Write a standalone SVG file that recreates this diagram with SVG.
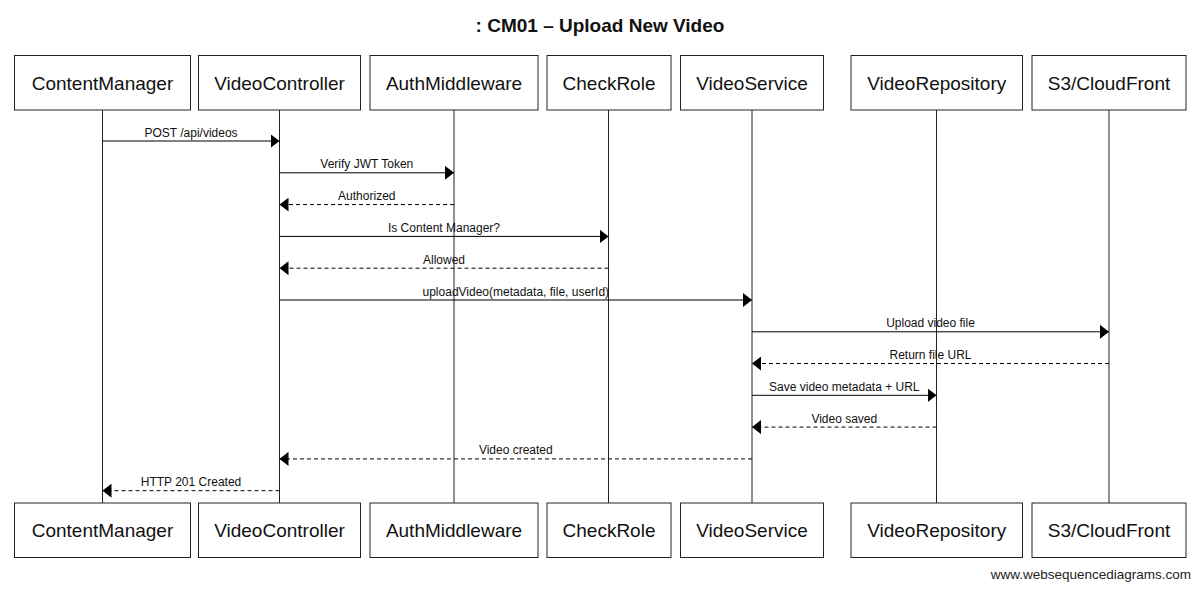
<svg xmlns="http://www.w3.org/2000/svg" width="1200" height="589" viewBox="0 0 1200 589">
<style>
  .box { fill: #ffffff; stroke: #222222; stroke-width: 1; }
  .name { font-family: "Liberation Sans", Arial, sans-serif; font-size: 19px; fill: #111111; text-anchor: middle; }
  .life { stroke: #222222; stroke-width: 1; fill: none; }
  .msg { stroke: #000000; stroke-width: 1; fill: none; }
  .ret { stroke: #000000; stroke-width: 1; fill: none; stroke-dasharray: 4 3; }
  .lbl { font-family: "Liberation Sans", Arial, sans-serif; font-size: 12px; fill: #111111; text-anchor: middle; }
  .title { font-family: "Liberation Sans", Arial, sans-serif; font-size: 19px; font-weight: bold; fill: #111111; text-anchor: middle; }
  .wm { font-family: "Liberation Sans", Arial, sans-serif; font-size: 13.5px; fill: #222222; text-anchor: end; }
</style>
<defs>
  <marker id="ah" viewBox="0 0 9 14" markerUnits="userSpaceOnUse" markerWidth="9" markerHeight="14" refX="9" refY="7" orient="auto">
    <path d="M0,0 L9,7 L0,14 Z" fill="#000000" stroke="none"/>
  </marker>
</defs>
<rect x="0" y="0" width="1200" height="589" fill="#ffffff"/>
<text class="title" x="600" y="32">: CM01 – Upload New Video</text>

<g id="lifelines">
  <line class="life" x1="102.5" y1="110" x2="102.5" y2="503"/>
  <line class="life" x1="279.5" y1="110" x2="279.5" y2="503"/>
  <line class="life" x1="454" y1="110" x2="454" y2="503"/>
  <line class="life" x1="608.5" y1="110" x2="608.5" y2="503"/>
  <line class="life" x1="752" y1="110" x2="752" y2="503"/>
  <line class="life" x1="936.5" y1="110" x2="936.5" y2="503"/>
  <line class="life" x1="1109" y1="110" x2="1109" y2="503"/>
</g>

<g id="ContentManager">
  <rect class="box" x="14.5" y="55.5" width="176" height="54.5"/>
  <text class="name" x="102.5" y="89.5">ContentManager</text>
  <rect class="box" x="14.5" y="503" width="176" height="54.5"/>
  <text class="name" x="102.5" y="537">ContentManager</text>
</g>
<g id="VideoController">
  <rect class="box" x="198.5" y="55.5" width="162" height="54.5"/>
  <text class="name" x="279.5" y="89.5">VideoController</text>
  <rect class="box" x="198.5" y="503" width="162" height="54.5"/>
  <text class="name" x="279.5" y="537">VideoController</text>
</g>
<g id="AuthMiddleware">
  <rect class="box" x="370" y="55.5" width="168" height="54.5"/>
  <text class="name" x="454" y="89.5">AuthMiddleware</text>
  <rect class="box" x="370" y="503" width="168" height="54.5"/>
  <text class="name" x="454" y="537">AuthMiddleware</text>
</g>
<g id="CheckRole">
  <rect class="box" x="547" y="55.5" width="124" height="54.5"/>
  <text class="name" x="609" y="89.5">CheckRole</text>
  <rect class="box" x="547" y="503" width="124" height="54.5"/>
  <text class="name" x="609" y="537">CheckRole</text>
</g>
<g id="VideoService">
  <rect class="box" x="680.5" y="55.5" width="143" height="54.5"/>
  <text class="name" x="752" y="89.5">VideoService</text>
  <rect class="box" x="680.5" y="503" width="143" height="54.5"/>
  <text class="name" x="752" y="537">VideoService</text>
</g>
<g id="VideoRepository">
  <rect class="box" x="851" y="55.5" width="171.5" height="54.5"/>
  <text class="name" x="936.7" y="89.5">VideoRepository</text>
  <rect class="box" x="851" y="503" width="171.5" height="54.5"/>
  <text class="name" x="936.7" y="537">VideoRepository</text>
</g>
<g id="S3CloudFront">
  <rect class="box" x="1032" y="55.5" width="154" height="54.5"/>
  <text class="name" x="1109" y="89.5">S3/CloudFront</text>
  <rect class="box" x="1032" y="503" width="154" height="54.5"/>
  <text class="name" x="1109" y="537">S3/CloudFront</text>
</g>

<g id="connectors">
  <line class="msg" x1="102.5" y1="141" x2="279.5" y2="141" marker-end="url(#ah)"/>
  <text class="lbl" x="191" y="136.5">POST /api/videos</text>

  <line class="msg" x1="279.5" y1="172.8" x2="454" y2="172.8" marker-end="url(#ah)"/>
  <text class="lbl" x="366.8" y="168.3">Verify JWT Token</text>

  <line class="ret" x1="454" y1="204.6" x2="279.5" y2="204.6" marker-end="url(#ah)"/>
  <text class="lbl" x="366.8" y="200.1">Authorized</text>

  <line class="msg" x1="279.5" y1="236.4" x2="608.5" y2="236.4" marker-end="url(#ah)"/>
  <text class="lbl" x="444" y="231.9">Is Content Manager?</text>

  <line class="ret" x1="608.5" y1="268.2" x2="279.5" y2="268.2" marker-end="url(#ah)"/>
  <text class="lbl" x="444" y="263.7">Allowed</text>

  <line class="msg" x1="279.5" y1="300" x2="752" y2="300" marker-end="url(#ah)"/>
  <text class="lbl" x="515.8" y="295.5">uploadVideo(metadata, file, userId)</text>

  <line class="msg" x1="752" y1="331.8" x2="1109" y2="331.8" marker-end="url(#ah)"/>
  <text class="lbl" x="930.5" y="327.3">Upload video file</text>

  <line class="ret" x1="1109" y1="363.5" x2="752" y2="363.5" marker-end="url(#ah)"/>
  <text class="lbl" x="930.5" y="359">Return file URL</text>

  <line class="msg" x1="752" y1="395.3" x2="936.5" y2="395.3" marker-end="url(#ah)"/>
  <text class="lbl" x="844.3" y="390.8">Save video metadata + URL</text>

  <line class="ret" x1="936.5" y1="427.1" x2="752" y2="427.1" marker-end="url(#ah)"/>
  <text class="lbl" x="844.3" y="422.6">Video saved</text>

  <line class="ret" x1="752" y1="458.9" x2="279.5" y2="458.9" marker-end="url(#ah)"/>
  <text class="lbl" x="515.8" y="454.4">Video created</text>

  <line class="ret" x1="279.5" y1="490.7" x2="102.5" y2="490.7" marker-end="url(#ah)"/>
  <text class="lbl" x="191" y="486.2">HTTP 201 Created</text>
</g>

<text class="wm" x="1191" y="579">www.websequencediagrams.com</text>
</svg>
